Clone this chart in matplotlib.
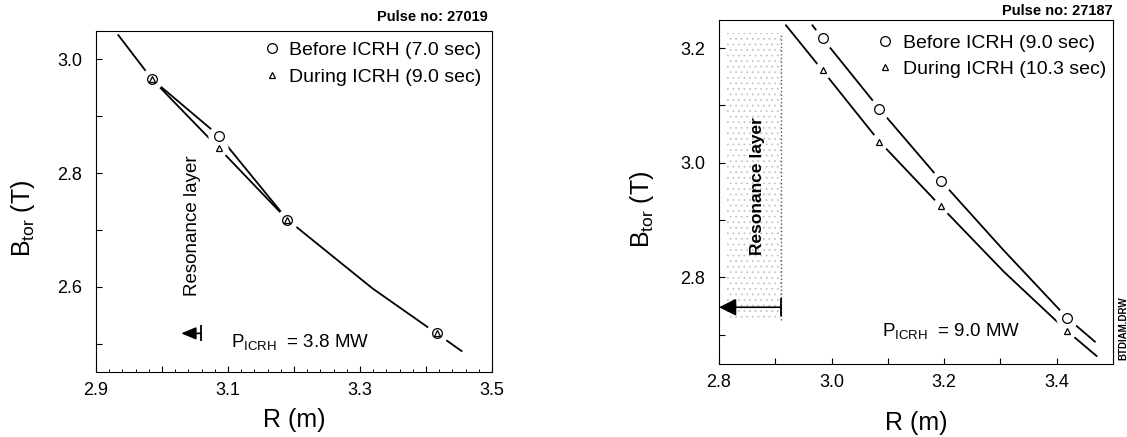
import numpy as np
import matplotlib.pyplot as plt
from matplotlib.patches import Rectangle

plt.rcParams['font.family'] = ['Liberation Sans', 'DejaVu Sans']
plt.rcParams['mathtext.fontset'] = 'custom'
plt.rcParams['mathtext.rm'] = 'Liberation Sans'
plt.rcParams['hatch.linewidth'] = 0.6

# ---- pulse 27019 (left) ----
r1_pts = [2.985, 3.086, 3.190, 3.416]
b1_before = [2.965, 2.866, 2.718, 2.518]
b1_during = [2.965, 2.844, 2.718, 2.518]
# traced curves
r1_line_before = [2.933, 2.985, 3.086, 3.190, 3.319, 3.416, 3.455]
b1_line_before = [3.044, 2.965, 2.866, 2.718, 2.597, 2.518, 2.486]
r1_line_during = [2.985, 3.086, 3.190]
b1_line_during = [2.965, 2.844, 2.718]
res1_arrow_R = [3.059, 3.029]   # bar -> tip
res1_arrow_B = 2.518

# ---- pulse 27187 (right) ----
r2_pts = [2.984, 3.085, 3.194, 3.419]
b2_before = [3.217, 3.094, 2.969, 2.729]
b2_during = [3.161, 3.037, 2.924, 2.706]
r2_line_before = [2.965, 2.984, 3.085, 3.194, 3.306, 3.419, 3.469]
b2_line_before = [3.241, 3.217, 3.094, 2.969, 2.847, 2.729, 2.687]
r2_line_during = [2.918, 2.984, 3.085, 3.194, 3.306, 3.419, 3.472]
b2_line_during = [3.241, 3.161, 3.037, 2.924, 2.810, 2.706, 2.662]
res2_band_R = [2.815, 2.910]
res2_band_B = [2.726, 3.226]
res2_arrow_R = [2.910, 2.800]
res2_arrow_B = 2.748

xt1 = [2.9, 3.0, 3.1, 3.2, 3.3, 3.4, 3.5]
xt1_lab = ['2.9', '', '3.1', '', '3.3', '', '3.5']
yt1 = [2.5, 2.6, 2.7, 2.8, 2.9, 3.0]
yt1_lab = ['', '2.6', '', '2.8', '', '3.0']
xt2 = [2.8, 2.9, 3.0, 3.1, 3.2, 3.3, 3.4]
xt2_lab = ['2.8', '', '3.0', '', '3.2', '', '3.4']
yt2 = [2.7, 2.8, 2.9, 3.0, 3.1, 3.2]
yt2_lab = ['', '2.8', '', '3.0', '', '3.2']

fig = plt.figure(figsize=(11.27, 4.37), dpi=100)
ax1 = fig.add_axes([96 / 1127, 1 - 372 / 437, 396 / 1127, 341 / 437])
ax2 = fig.add_axes([719 / 1127, 1 - 364 / 437, 394 / 1127, 344 / 437])


def style_axes(ax, xt, xlab, yt, ylab, xlim, ylim):
    ax.set_xlim(*xlim)
    ax.set_ylim(*ylim)
    ax.set_xticks(xt)
    ax.set_xticklabels(xlab)
    ax.set_yticks(yt)
    ax.set_yticklabels(ylab)
    ax.tick_params(direction='in', length=4, width=0.8, labelsize=13)
    ax.tick_params(axis='x', pad=7)
    ax.tick_params(axis='y', pad=10)
    for s in ax.spines.values():
        s.set_linewidth(0.8)
    ax.set_xlabel('R (m)', fontsize=18)
    ax.set_ylabel(r'$\mathregular{B_{tor}}$ (T)', fontsize=18)


def draw_curves(ax, lines, r, before, during, lab_b, lab_d, anchor):
    for lr, lb in lines:
        ax.plot(lr, lb, color='black', lw=1.3, zorder=2, solid_capstyle='butt')
    # gaps around the symbols
    ax.plot(r, before, 'o', ms=16, mfc='white', mec='none', ls='none', zorder=3)
    ax.plot(r, during, 'o', ms=13, mfc='white', mec='none', ls='none', zorder=3)
    ax.plot(r, before, 'o', ms=7, mfc='white', mec='black', mew=0.9,
            ls='none', zorder=4, label=lab_b)
    ax.plot(r, during, '^', ms=5, mfc='white', mec='black', mew=0.9,
            ls='none', zorder=5, label=lab_d)
    ax.legend(loc='upper right', bbox_to_anchor=anchor, frameon=False, fontsize=14,
              handlelength=0.8, handletextpad=0.5, labelspacing=0.45,
              borderaxespad=0.35, borderpad=0.2)


# ---- left panel ----
style_axes(ax1, xt1, xt1_lab, yt1, yt1_lab, (2.9, 3.5), (2.45, 3.05))
ax1.set_xticks(np.arange(2.9, 3.501, 0.02), minor=True)
ax1.tick_params(axis='x', which='minor', direction='in', length=2, width=0.7)
ax1.xaxis.set_label_coords(0.5, -0.105)
ax1.yaxis.set_label_coords(-0.15, 0.45)
draw_curves(ax1, [(r1_line_before, b1_line_before), (r1_line_during, b1_line_during)],
            r1_pts, b1_before, b1_during,
            'Before ICRH (7.0 sec)', 'During ICRH (9.0 sec)', (1.0, 1.0))
ax1.text(3.046, 2.708, 'Resonance layer', rotation=90, ha='center', va='center',
         fontsize=13.5)
ax1.annotate('', xy=(res1_arrow_R[1], res1_arrow_B), xytext=(res1_arrow_R[0], res1_arrow_B),
             arrowprops=dict(arrowstyle='-|>,head_length=0.6,head_width=0.25',
                             color='black', lw=1.2, mutation_scale=15, shrinkA=0, shrinkB=0))
ax1.plot([res1_arrow_R[0]], [res1_arrow_B], marker='|', ms=12, mew=1.3, color='black')
ax1.text(3.105, 2.503, r'$\mathregular{P_{ICRH}}$  = 3.8 MW', fontsize=13.5,
         ha='left', va='center')
ax1.text(0.99, 1.02, 'Pulse no: 27019', transform=ax1.transAxes, ha='right',
         va='bottom', fontsize=10.5, fontweight='bold')

# ---- right panel ----
style_axes(ax2, xt2, xt2_lab, yt2, yt2_lab, (2.8, 3.5), (2.649, 3.249))
ax2.xaxis.set_label_coords(0.5, -0.137)
ax2.yaxis.set_label_coords(-0.16, 0.45)
ax2.add_patch(Rectangle((res2_band_R[0], res2_band_B[0]),
                        res2_band_R[1] - res2_band_R[0], res2_band_B[1] - res2_band_B[0],
                        fill=False, hatch='...', edgecolor='#c4c4c4', lw=0, zorder=1))
ax2.plot([res2_band_R[1]] * 2, res2_band_B, ls=':', color='#555555', lw=1.0, zorder=1)
draw_curves(ax2, [(r2_line_before, b2_line_before), (r2_line_during, b2_line_during)],
            r2_pts, b2_before, b2_during,
            'Before ICRH (9.0 sec)', 'During ICRH (10.3 sec)', (1.01, 0.99))
ax2.text(2.868, 2.959, 'Resonance layer', rotation=90, ha='center', va='center',
         fontsize=12.5, fontweight='bold', zorder=3)
ax2.annotate('', xy=(res2_arrow_R[1], res2_arrow_B), xytext=(res2_arrow_R[0], res2_arrow_B),
             arrowprops=dict(arrowstyle='-|>,head_length=0.7,head_width=0.35',
                             color='black', lw=1.2, mutation_scale=15, shrinkA=0, shrinkB=0))
ax2.plot([res2_arrow_R[0]], [res2_arrow_B], marker='|', ms=13, mew=1.3, color='black')
ax2.text(3.090, 2.706, r'$\mathregular{P_{ICRH}}$  = 9.0 MW', fontsize=13.5,
         ha='left', va='center')
ax2.text(1.0, 1.005, 'Pulse no: 27187', transform=ax2.transAxes, ha='right',
         va='bottom', fontsize=10.5, fontweight='bold')

fig.text(1123 / 1127, 1 - 328 / 437, 'BTDIAM.DRW', rotation=90, ha='center',
         va='center', fontsize=7, fontweight='bold')

fig.savefig('out.png', dpi=100)
